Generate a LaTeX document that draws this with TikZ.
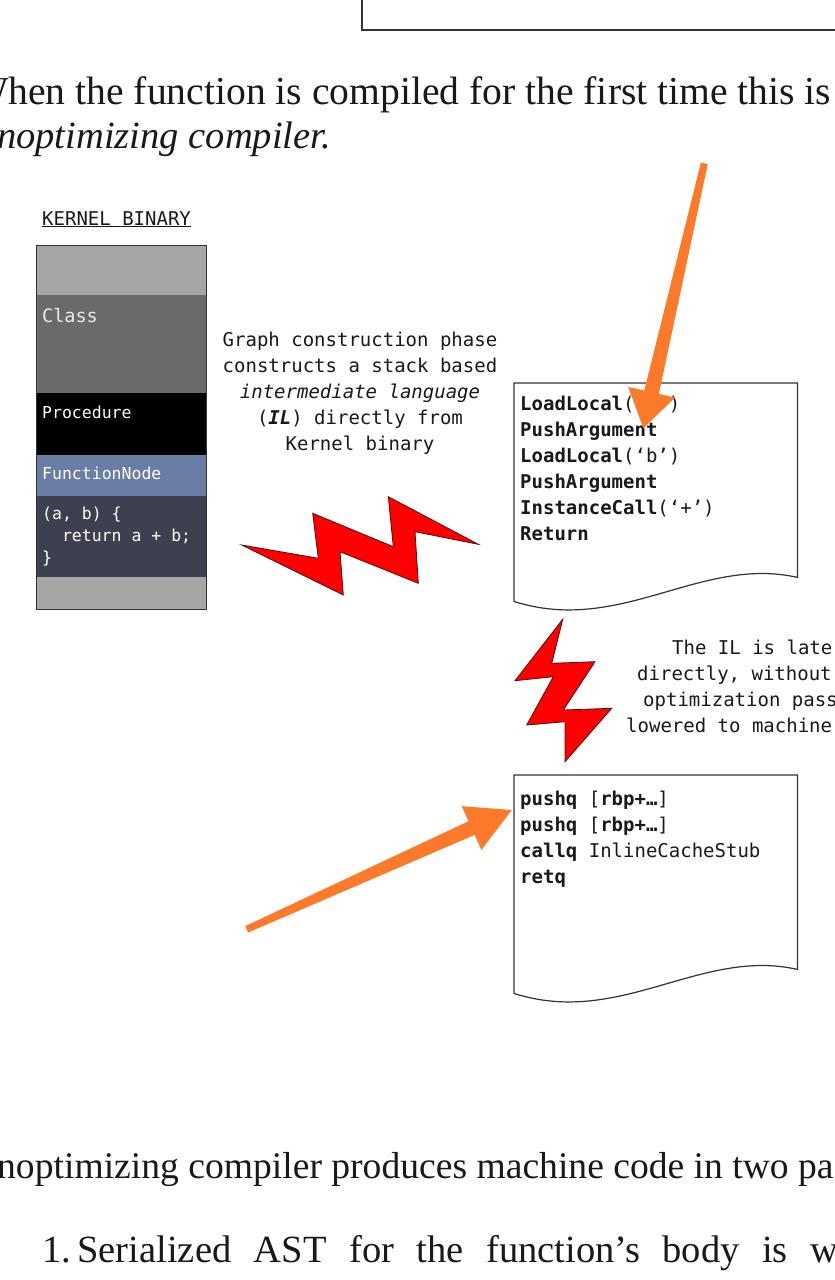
\documentclass[tikz,border=0pt]{standalone}
\usepackage{fontspec}
\setmainfont{Liberation Serif}
\setmonofont{DejaVu Sans Mono}
\usetikzlibrary{positioning,calc}
\definecolor{kblight}{HTML}{A6A6A6}
\definecolor{kbclass}{HTML}{6A6A6A}
\definecolor{kbfunc}{HTML}{6A7DA6}
\definecolor{kbcode}{HTML}{3E4050}
\definecolor{boltred}{HTML}{FF0000}
\definecolor{boltedge}{HTML}{5A0A0A}
\definecolor{hiorange}{HTML}{FD7A2B}
\definecolor{inkgray}{HTML}{333333}

% page outline with a wavy bottom edge, drawn from the node's anchors
\newcommand\pagewave[1]{%
  \draw[pageline] ($(#1.south west)+(0,24)$) -- (#1.north west) -- (#1.north east) -- (#1.south east)
    .. controls ($(#1.south east)+(-97,-22)$) and ($(#1.south west)+(106,58)$) .. ($(#1.south west)+(0,24)$) -- cycle;}

% tapered highlight arrow: tail, tip, head length
\newcommand\fatarrow[3]{%
  \coordinate (hb) at ($(#2)!#3!(#1)$);
  \fill[hiorange] ($(#1)!3.5pt!-90:(#2)$) -- ($(hb)!7.5pt!-90:(#2)$) -- ($(hb)!24pt!-90:(#2)$) -- (#2)
    -- ($(hb)!24pt!90:(#2)$) -- ($(hb)!7.5pt!90:(#2)$) -- ($(#1)!3.5pt!90:(#2)$) -- cycle;}

\begin{document}
\begin{tikzpicture}[x=1pt, y=-1pt,
    body/.style={font=\fontsize{38.5}{46}\selectfont, text=black!90, inner sep=0, anchor=base west},
    mono/.style={font=\ttfamily\fontsize{19}{26}\selectfont, text=black!90, inner sep=0},
    kbsec/.style={rectangle, fill=#1, minimum width=170pt, inner sep=0, outer sep=0},
    kblbl/.style={font=\ttfamily\fontsize{16.5}{22}\selectfont, text=white, inner sep=0, anchor=base west, align=left},
    docpage/.style={rectangle, minimum width=283pt, minimum height=194pt, inner sep=0, anchor=north west},
    pageline/.style={draw=inkgray, line width=1.2pt, fill=white},
    bolt/.style={fill=boltred, draw=boltedge, line width=0.8pt},
  ]
  \fill[white] (0,0) rectangle (835,1280);
  \useasboundingbox (0,0) rectangle (835,1280);
  \clip (0,0) rectangle (835,1280);

  % box of the previous figure
  \draw[inkgray, line width=2pt] (362,-20) rectangle (850,30);

  % running text
  \node[body, font=\fontsize{39.6}{46}\selectfont] (para1) at (-29,104) {When the function is compiled for the first time this is};
  \node[body, font=\fontsize{38.5}{46}\selectfont\itshape] (para2) at (-3,148) {noptimizing compiler.};
  \node[body, font=\fontsize{37.6}{46}\selectfont] (para3) at (-3,1178) {noptimizing compiler produces machine code in two pa};
  \node[body] (para4) at (42,1262) {\hbox to 796pt{1.\,Serialized\hfill AST\hfill for\hfill the\hfill function's\hfill body\hfill is\hfill w}};

  % kernel binary
  \node[mono, anchor=base west] (kbtitle) at (42,225) {\underline{KERNEL BINARY}};
  \node[kbsec=kblight, minimum height=50pt, anchor=north west] (kbtop) at (36,245) {};
  \node[kbsec=kbclass, minimum height=98pt, below=0pt of kbtop] (kbcls) {};
  \node[kbsec=black, minimum height=62pt, below=0pt of kbcls] (kbproc) {};
  \node[kbsec=kbfunc, minimum height=41pt, below=0pt of kbproc] (kbfn) {};
  \node[kbsec=kbcode, minimum height=81pt, below=0pt of kbfn] (kbbody) {};
  \node[kbsec=kblight, minimum height=32pt, below=0pt of kbbody] (kbbot) {};
  \draw[inkgray, line width=1pt] (kbtop.north west) rectangle (kbbot.south east);
  \node[kblbl, font=\ttfamily\fontsize{18.5}{22}\selectfont, text=white!92!black] at ($(kbcls.north west)+(6,27)$) {Class};
  \node[kblbl] at ($(kbproc.north west)+(6,25)$) {Procedure};
  \node[kblbl] at ($(kbfn.north west)+(6,24)$) {FunctionNode};
  \node[kblbl, anchor=north west] at ($(kbbody.north west)+(6,11)$) {(a, b) \{\\\hspace*{19.8pt}return a + b;\\\}};

  % graph construction note
  \node[mono, align=center, anchor=north] (ilnote) at (360,332)
    {Graph construction phase\\constructs a stack based\\\textit{intermediate language}\\(\textbf{\textit{IL}}) directly from\\Kernel binary};

  % IL listing
  \node[docpage] (ilpage) at (514,383) {};
  \pagewave{ilpage}
  \node[mono, align=left, anchor=north west] (ilcode) at ($(ilpage.north west)+(6,13)$)
    {\textbf{LoadLocal}(‘a’)\\\textbf{PushArgument}\\\textbf{LoadLocal}(‘b’)\\\textbf{PushArgument}\\\textbf{InstanceCall}(‘+’)\\\textbf{Return}};

  % lowering note
  \node[mono, align=left, anchor=north west] (mcnote) at (626,640)
    {\hspace*{46pt}The IL is later\\\hspace*{11pt}directly, without\\\hspace*{17pt}optimization pass\\lowered to machine};

  % machine code listing
  \node[docpage] (mcpage) at (514,775) {};
  \pagewave{mcpage}
  \node[mono, align=left, anchor=north west] (mccode) at ($(mcpage.north west)+(6,16)$)
    {\textbf{pushq} [\textbf{rbp+…}]\\\textbf{pushq} [\textbf{rbp+…}]\\\textbf{callq} InlineCacheStub\\\textbf{retq}};

  % lightning bolts
  \draw[bolt] (241.7,545) -- (318.3,558.3) -- (312.7,513.3) -- (393.3,546.7) -- (388.3,496.7) -- (478.3,544.3)
    -- (415,531.7) -- (418.3,583.3) -- (340,551.7) -- (343.3,595) -- cycle;
  \draw[bolt] (562.7,619.3) -- (551.7,663.3) -- (595,661.7) -- (563.3,710) -- (611.7,708.3) -- (565,761.7)
    -- (565,721.7) -- (526.7,725) -- (553.3,676.7) -- (515,680.7) -- cycle;

  % highlight arrows
  \coordinate (ilTail) at (704.3,163.3);
  \coordinate (ilTip) at (643.3,428.3);
  \fatarrow{ilTail}{ilTip}{37pt}
  \coordinate (mcTail) at (246.7,929.3);
  \coordinate (mcTip) at (511.7,810);
  \fatarrow{mcTail}{mcTip}{44pt}
\end{tikzpicture}
\end{document}
